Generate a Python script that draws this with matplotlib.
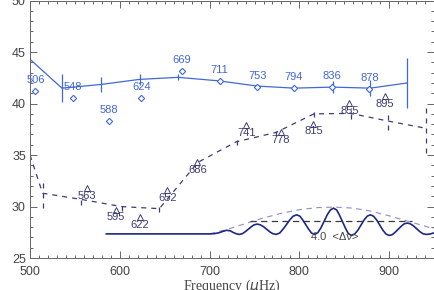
import matplotlib
matplotlib.use("Agg")
import matplotlib.pyplot as plt
from matplotlib.ticker import MultipleLocator

# blue series: mean large separation with error bars
sep_freq = [500, 535.5, 578.5, 622, 665, 711, 753, 794, 837, 879, 920]
sep_val = [44.3, 41.5, 41.85, 42.35, 42.55, 42.2, 41.7, 41.5, 41.6, 41.5, 42.0]
sep_err = [0.0, 1.35, 0.75, 0.5, 0.3, 0.25, 0.25, 0.25, 0.6, 0.8, 2.4]

# blue diamonds with mode frequency labels
diam_freq = [506, 548, 588, 624, 669, 711, 753, 794, 836, 878]
diam_val = [41.2, 40.5, 38.3, 40.5, 43.2, 42.2, 41.6, 41.5, 41.6, 41.4]

# dashed series
dash_freq = [500, 514, 557, 602, 644, 687, 730, 774, 816, 857, 899, 941]
dash_val = [35.0, 31.3, 30.7, 30.0, 29.8, 34.3, 36.3, 37.2, 39.0, 39.05, 38.3, 37.6]
dash_err = [0.0, 1.4, 0.5, 0.4, 0.3, 0.0, 0.3, 0.3, 0.3, 0.55, 0.85, 2.4]

# triangles with labels
tri_freq = [563, 595.5, 622, 653, 686.5, 741, 779, 815.5, 855.5, 895.5]
tri_val = [31.8, 29.7, 28.95, 31.6, 34.3, 37.9, 37.2, 38.05, 40.05, 40.7]
tri_labels = ["563", "595", "622", "652", "686", "741", "778", "815", "855", "895"]

# oscillating curve at the bottom
osc_freq = [585, 700, 705, 710, 715, 719, 723, 726, 730, 733,
            736.5, 739.5, 743, 746.5, 749.5, 753,
            756.5, 760, 763.5, 767, 770.5, 774,
            778, 781.5, 785.5, 789.5, 793, 797,
            800.5, 803.5, 807, 810.5, 813.5, 817,
            820.5, 824, 827.5, 831, 834.5, 838,
            841.5, 844.5, 848, 851.5, 854.5, 858,
            861.5, 865, 868.5, 872, 875.5, 879,
            882.5, 886, 889.5, 893, 896.5, 900,
            903.5, 906.5, 910, 913.5, 916.5, 920,
            923.5, 927, 930.5, 934, 937.5, 941, 945, 950]
osc_val = [27.35, 27.35, 27.37, 27.45, 27.6, 27.7, 27.65, 27.5, 27.35, 27.3,
           27.37, 27.55, 27.8, 28.05, 28.23, 28.3,
           28.23, 28.05, 27.8, 27.55, 27.37, 27.3,
           27.43, 27.78, 28.25, 28.73, 29.07, 29.2,
           29.07, 28.73, 28.25, 27.78, 27.43, 27.3,
           27.47, 27.94, 28.58, 29.21, 29.68, 29.85,
           29.67, 29.19, 28.53, 27.86, 27.38, 27.2,
           27.33, 27.7, 28.2, 28.7, 29.07, 29.2,
           29.07, 28.7, 28.2, 27.7, 27.33, 27.2,
           27.28, 27.5, 27.8, 28.1, 28.32, 28.4,
           28.33, 28.13, 27.85, 27.58, 27.37, 27.3, 27.33, 27.45]

# envelope (light dashed)
env_freq = [700, 720, 740, 760, 780, 800, 820, 840, 860, 880, 900, 920, 940, 950]
env_val = [27.35, 27.8, 28.35, 28.9, 29.35, 29.7, 29.9, 29.95, 29.85, 29.55, 29.1, 28.6, 28.1, 27.85]

half_level = 28.6
half_range = [745, 925]

blue = "#4068d8"
navy = "#3c3c74"
dark = "#1f2783"

fig = plt.figure(figsize=(4.35, 2.9), dpi=100)
ax = fig.add_axes([0.069, 0.11, 0.929, 0.888])

ax.plot(sep_freq, sep_val, color=blue, lw=0.9)
ax.errorbar(sep_freq, sep_val, yerr=sep_err, fmt="none", ecolor=blue, elinewidth=0.9)
ax.plot(diam_freq, diam_val, "D", ms=3.2, mfc="white", mec=blue, mew=0.8, ls="none")
for f, v in zip(diam_freq, diam_val):
    ax.annotate(str(f), (f, v), xytext=(0, 8), textcoords="offset points",
                ha="center", va="center", color=blue, fontsize=8, family="Liberation Sans")

ax.plot(dash_freq, dash_val, color=navy, lw=0.9, dashes=(4, 4))
eb = ax.errorbar(dash_freq, dash_val, yerr=dash_err, fmt="none", ecolor=navy, elinewidth=0.9)
for col in eb[2]:
    col.set_linestyle((0, (4, 4)))
ax.plot(tri_freq, tri_val, "^", ms=4, mfc="none", mec=navy, mew=0.7, ls="none")
for f, v, lab in zip(tri_freq, tri_val, tri_labels):
    ax.annotate(lab, (f, v), xytext=(0, -5.5), textcoords="offset points",
                ha="center", va="center", color=navy, fontsize=8, family="Liberation Sans")

ax.plot(env_freq, env_val, color="#8e8ec8", lw=0.8, dashes=(5, 4))
ax.plot(half_range, [half_level, half_level], color="#3a3a3a", lw=0.9, dashes=(5, 3.5))
ax.plot(osc_freq, osc_val, color=dark, lw=1.2)
ax.text(813, 27.0, "4.0  <\u0394\u03bd>", color="#444444", fontsize=8,
        family="Liberation Sans", va="center", ha="left")

ax.set_xlim(500, 950)
ax.set_ylim(25, 50)
ax.xaxis.set_major_locator(MultipleLocator(100))
ax.xaxis.set_minor_locator(MultipleLocator(10))
ax.yaxis.set_major_locator(MultipleLocator(5))
ax.yaxis.set_minor_locator(MultipleLocator(1))
ax.tick_params(which="both", direction="in", top=True, right=True, color="#666666")
ax.tick_params(which="major", length=5, width=0.7)
ax.tick_params(which="minor", length=2.5, width=0.7)
ax.tick_params(axis="x", pad=6, labelsize=9, labelcolor="#444444")
ax.tick_params(axis="y", pad=3, labelsize=9, labelcolor="#444444")
for lab in ax.get_xticklabels() + ax.get_yticklabels():
    lab.set_family("Liberation Sans")
for sp in ax.spines.values():
    sp.set_color("#666666")
    sp.set_linewidth(0.7)

ax.set_xlabel("Frequency ($\\mu$Hz)", fontsize=10, family="Liberation Serif", color="#444444")
ax.set_ylabel("Large separation ($\\mu$Hz)", fontsize=10, family="Liberation Serif", color="#444444")
ax.xaxis.set_label_coords(0.5, -0.075)
ax.yaxis.set_label_coords(-0.07, 0.5)

fig.savefig("out.png", dpi=100)
plt.close(fig)
